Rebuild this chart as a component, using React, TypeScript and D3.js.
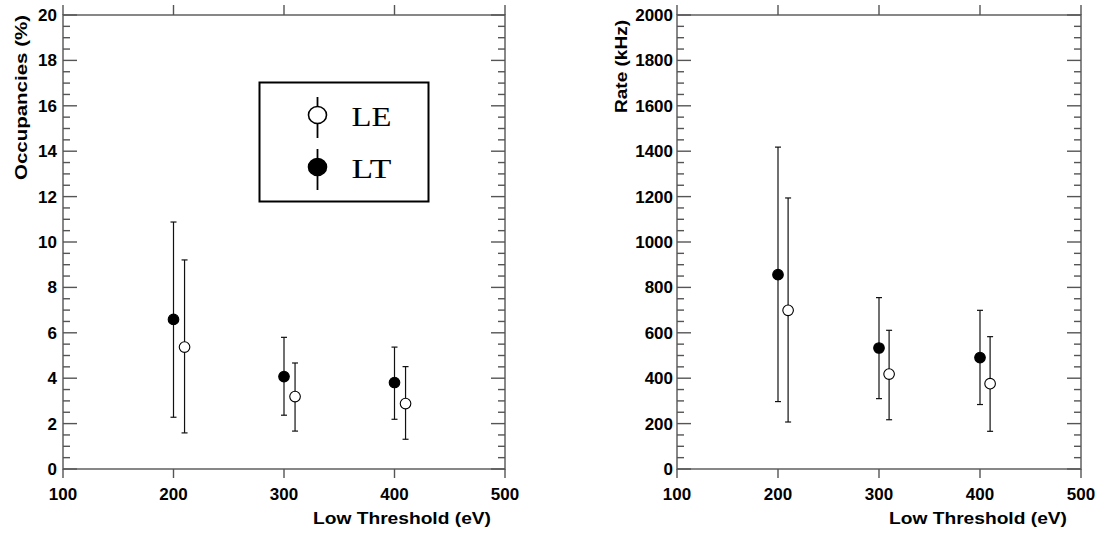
import React from "react";
import * as d3 from "d3";

// ---- data ----
const ltX = [200, 300, 400];
const leX = [210, 310, 410];

const occLT = [6.59, 4.07, 3.81];
const occLTlo = [2.28, 2.37, 2.19];
const occLThi = [10.88, 5.8, 5.37];
const occLE = [5.37, 3.19, 2.88];
const occLElo = [1.59, 1.67, 1.31];
const occLEhi = [9.21, 4.67, 4.51];

const rateLT = [856, 533, 491];
const rateLTlo = [297, 310, 284];
const rateLThi = [1418, 755, 699];
const rateLE = [699, 418, 376];
const rateLElo = [207, 217, 166];
const rateLEhi = [1194, 611, 583];

const xTicks = [100, 200, 300, 400, 500];
const occTicks = [0, 2, 4, 6, 8, 10, 12, 14, 16, 18, 20];
const rateTicks = [0, 200, 400, 600, 800, 1000, 1200, 1400, 1600, 1800, 2000];
const legendLabels = ["LE", "LT"];

const AX = "#555";
const SANS = "'Liberation Sans', Arial, Helvetica, sans-serif";

type Series = { x: number[]; y: number[]; lo: number[]; hi: number[]; filled: boolean };

function Panel(props: {
  x0: number; x1: number; y0: number; y1: number;
  yMax: number; yTicks: number[]; minorStep: number;
  yLabel: string; yLabelX: number; yLabelEndY: number; yLabelLen: number;
  tickLabelRight: number; series: Series[];
}) {
  const { x0, x1, y0, y1, yMax, yTicks, minorStep, series } = props;
  const x = d3.scaleLinear().domain([100, 500]).range([x0, x1]);
  const y = d3.scaleLinear().domain([0, yMax]).range([y0, y1]);
  const minors = d3.range(0, yMax + minorStep / 2, minorStep).filter((v) => !yTicks.includes(+v.toFixed(6)));
  return (
    <g>
      {/* frame */}
      <rect x={x0} y={y1} width={x1 - x0} height={y0 - y1} fill="none" stroke={AX} strokeWidth={1.4} />
      {/* x ticks outward top & bottom */}
      {xTicks.map((t) => (
        <g key={"xt" + t}>
          <line x1={x(t)} x2={x(t)} y1={y0} y2={y0 + 9} stroke={AX} strokeWidth={1.4} />
          <line x1={x(t)} x2={x(t)} y1={y1} y2={y1 - 10} stroke={AX} strokeWidth={1.4} />
          <text x={x(t)} y={500} textAnchor="middle" fontFamily={SANS} fontWeight="bold" fontSize={17} fill="#000">{t}</text>
        </g>
      ))}
      {/* y ticks inward left & right */}
      {yTicks.map((t) => (
        <g key={"yt" + t}>
          <line x1={x0} x2={x0 + 14} y1={y(t)} y2={y(t)} stroke={AX} strokeWidth={1.4} />
          <line x1={x1} x2={x1 - 14} y1={y(t)} y2={y(t)} stroke={AX} strokeWidth={1.4} />
          <text x={props.tickLabelRight} y={y(t) + 6} textAnchor="end" fontFamily={SANS} fontWeight="bold" fontSize={17} fill="#000">{t}</text>
        </g>
      ))}
      {minors.map((t) => (
        <g key={"ym" + t}>
          <line x1={x0} x2={x0 + 7} y1={y(t)} y2={y(t)} stroke={AX} strokeWidth={1.4} />
          <line x1={x1} x2={x1 - 7} y1={y(t)} y2={y(t)} stroke={AX} strokeWidth={1.4} />
        </g>
      ))}
      {/* axis labels */}
      <text
        transform={`translate(${props.yLabelX},${props.yLabelEndY}) rotate(-90)`}
        textAnchor="end" fontFamily={SANS} fontWeight="bold" fontSize={17} fill="#000"
        textLength={props.yLabelLen} lengthAdjust="spacingAndGlyphs"
      >{props.yLabel}</text>
      <text x={x1 - 14} y={524} textAnchor="end" fontFamily={SANS} fontWeight="bold" fontSize={17} fill="#000"
        textLength={178} lengthAdjust="spacingAndGlyphs">Low Threshold (eV)</text>
      {/* data */}
      {series.map((s, si) => (
        <g key={"s" + si}>
          {s.x.map((xv, i) => (
            <g key={i}>
              <line x1={x(xv)} x2={x(xv)} y1={y(s.lo[i])} y2={y(s.hi[i])} stroke="#111" strokeWidth={1.2} />
              <line x1={x(xv) - 3} x2={x(xv) + 3} y1={y(s.lo[i])} y2={y(s.lo[i])} stroke="#111" strokeWidth={1.2} />
              <line x1={x(xv) - 3} x2={x(xv) + 3} y1={y(s.hi[i])} y2={y(s.hi[i])} stroke="#111" strokeWidth={1.2} />
              <circle cx={x(xv)} cy={y(s.y[i])} r={5.3} fill={s.filled ? "#000" : "#fff"} stroke="#000" strokeWidth={1.1} />
            </g>
          ))}
        </g>
      ))}
    </g>
  );
}

export default function App() {
  const occSeries: Series[] = [
    { x: ltX, y: occLT, lo: occLTlo, hi: occLThi, filled: true },
    { x: leX, y: occLE, lo: occLElo, hi: occLEhi, filled: false },
  ];
  const rateSeries: Series[] = [
    { x: ltX, y: rateLT, lo: rateLTlo, hi: rateLThi, filled: true },
    { x: leX, y: rateLE, lo: rateLElo, hi: rateLEhi, filled: false },
  ];
  return (
    <svg width={1099} height={537} style={{ position: "absolute", left: 0, top: 0, background: "#fff" }}>
      <rect x={0} y={0} width={1099} height={537} fill="#fff" />
      <Panel x0={63} x1={505} y0={469} y1={15} yMax={20} yTicks={occTicks} minorStep={0.5}
        yLabel="Occupancies (%)" yLabelX={27} yLabelEndY={15} yLabelLen={165}
        tickLabelRight={57} series={occSeries} />
      <Panel x0={677} x1={1081} y0={469} y1={15} yMax={2000} yTicks={rateTicks} minorStep={50}
        yLabel="Rate (kHz)" yLabelX={627} yLabelEndY={20} yLabelLen={93}
        tickLabelRight={673} series={rateSeries} />
      {/* legend */}
      <rect x={259.5} y={82.5} width={169} height={119} fill="#fff" stroke="#000" strokeWidth={2} />
      {legendLabels.map((lab, i) => {
        const cy = 115 + i * 52;
        return (
          <g key={lab}>
            <line x1={317.5} x2={317.5} y1={cy - 18} y2={cy + 23} stroke="#000" strokeWidth={1.8} />
            <ellipse cx={317.5} cy={cy} rx={9} ry={8.5} fill={i === 0 ? "#fff" : "#000"} stroke="#000" strokeWidth={1.6} />
            <text x={351.5} y={cy + 11} fontFamily="'Liberation Serif', 'Times New Roman', serif" fontSize={27} fill="#000"
              textLength={40} lengthAdjust="spacingAndGlyphs">{lab}</text>
          </g>
        );
      })}
    </svg>
  );
}
